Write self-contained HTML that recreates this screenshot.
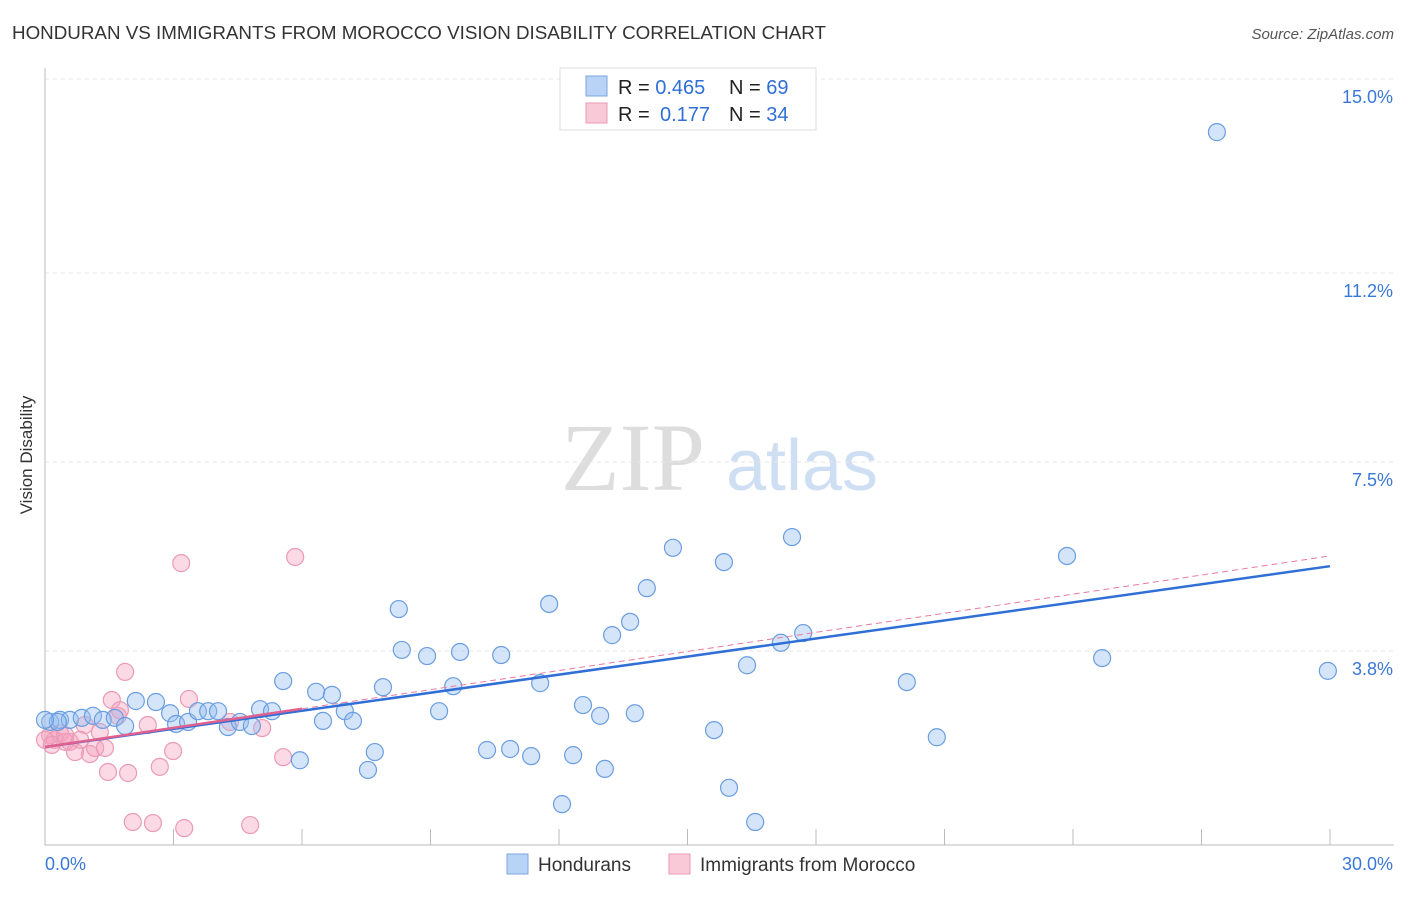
<!DOCTYPE html>
<html><head><meta charset="utf-8"><style>
body{margin:0;background:#fff;font-family:"Liberation Sans",sans-serif}
</style></head><body>
<svg id="c" width="1406" height="892" xmlns="http://www.w3.org/2000/svg">
<text x="12" y="39" font-size="18.8" fill="#333">HONDURAN VS IMMIGRANTS FROM MOROCCO VISION DISABILITY CORRELATION CHART</text>
<text x="1394" y="39" font-size="15" fill="#555" font-style="italic" text-anchor="end">Source: ZipAtlas.com</text>
<text x="32" y="455" font-size="17" fill="#333" text-anchor="middle" transform="rotate(-90 32 455)">Vision Disability</text>
<g>
<text x="633" y="490" font-size="96" font-family="Liberation Serif,serif" fill="#ddd" text-anchor="middle">ZIP</text>
<text x="802" y="490" font-size="72" fill="#cfdff3" text-anchor="middle">atlas</text>
</g>
<g id="grid"></g><g id="axes"></g><g id="pts"></g><g id="lines"></g>
<g>
<rect x="560" y="68" width="256" height="62" fill="#fff" stroke="#ddd"/>
<rect x="586" y="76" width="21" height="20" fill="#b8d3f5" stroke="#7aa6e0"/>
<rect x="586" y="103" width="21" height="20" fill="#f9c9d8" stroke="#eb9ab5"/>
<text x="618" y="94" font-size="20" fill="#222">R = <tspan fill="#2f6fd6">0.465</tspan><tspan x="729">N = </tspan><tspan fill="#2f6fd6">69</tspan></text>
<text x="618" y="121" font-size="20" fill="#222">R = <tspan x="660" fill="#2f6fd6">0.177</tspan><tspan x="729">N = </tspan><tspan fill="#2f6fd6">34</tspan></text>
</g>
<g>
<rect x="507" y="854" width="21" height="20" fill="#b8d3f5" stroke="#7aa6e0"/>
<text x="538" y="871" font-size="19" fill="#333">Hondurans</text>
<rect x="669" y="854" width="21" height="20" fill="#f9c9d8" stroke="#eb9ab5"/>
<text x="700" y="871" font-size="19" fill="#333">Immigrants from Morocco</text>
</g>
</svg>
<script>
const yTicks=[3.8,7.5,11.2,15.0];
const yTickLabels=["3.8%","7.5%","11.2%","15.0%"];
const xTickVals=[0,3,6,9,12,15,18,21,24,27,30];
const bluePx=[[50,722],[60,720],[70,720],[82,718],[93,716],[103,720],[115,718],[125,726],[136,701],[156,702],[170,713],[176,724],[188,722],[198,711],[208,711],[218,711],[228,727],[240,722],[252,726],[260,709],[272,711],[283,681],[300,760],[316,692],[323,721],[332,695],[345,711],[353,721],[368,770],[375,752],[383,687],[399,609],[402,650],[427,656],[439,711],[453,686],[460,652],[487,750],[501,655],[510,749],[531,756],[540,683],[549,604],[562,804],[573,755],[583,705],[600,716],[605,769],[612,635],[630,622],[635,713],[647,588],[673,548],[714,730],[724,562],[729,788],[747,665],[755,822],[781,643],[792,537],[803,633],[907,682],[937,737],[1067,556],[1102,658],[1217,132],[1328,671],[58,722],[45,720]];
const pinkPx=[[50,735],[55,740],[60,733],[65,742],[70,742],[75,752],[85,725],[90,754],[95,748],[100,732],[105,748],[108,772],[112,700],[118,716],[120,710],[125,672],[128,773],[133,822],[148,725],[153,823],[160,767],[173,751],[181,563],[184,828],[189,699],[230,722],[250,825],[262,728],[283,757],[295,557],[45,740],[52,745],[80,740],[65,735]];
// data arrays (x = % , y = %)
const blueX=bluePx.map(p=>+((p[0]-45)*30/1285).toFixed(2));
const blueY=bluePx.map(p=>+((845-p[1])*15/766).toFixed(2));
const pinkX=pinkPx.map(p=>+((p[0]-45)*30/1285).toFixed(2));
const pinkY=pinkPx.map(p=>+((845-p[1])*15/766).toFixed(2));
const blueFit=[1.92,5.46];
const pinkFit=[1.92,5.66];
const X=v=>45+v*1285/30, Y=v=>845-v*766/15;
const NS="http://www.w3.org/2000/svg";
function mk(t,a,p){const e=document.createElementNS(NS,t);for(const k in a)e.setAttribute(k,a[k]);p.appendChild(e);return e;}
const grid=document.getElementById('grid'),axes=document.getElementById('axes');
yTicks.forEach((v,i)=>{
 const l=mk('line',{x1:45,x2:1394,y1:Y(v),y2:Y(v),stroke:'#e6e6e6','stroke-dasharray':'4 4'},grid);
 
 
 const t=mk('text',{x:1393,y:Y(v)+24,'font-size':18,fill:'#3a78d8','text-anchor':'end'},axes);
 t.textContent=yTickLabels[i];
 
 
});
const ax=mk('line',{x1:45,x2:45,y1:68,y2:845,stroke:'#bbb'},axes);


const bx=mk('line',{x1:45,x2:1394,y1:845,y2:845,stroke:'#bbb'},axes);


xTickVals.forEach(v=>{const l=mk('line',{x1:X(v),x2:X(v),y1:829,y2:845,stroke:'#bbb'},axes);
 
 });
const xl=mk('text',{x:45,y:870,'font-size':18,fill:'#3a78d8'},axes);xl.textContent='0.0%';


const xr=mk('text',{x:1393,y:870,'font-size':18,fill:'#3a78d8','text-anchor':'end'},axes);xr.textContent='30.0%';


const pts=document.getElementById('pts');
pinkX.forEach((x,i)=>{const c=mk('circle',{cx:X(x),cy:Y(pinkY[i]),r:8.5,fill:'rgba(245,160,190,0.4)',stroke:'#eb9ab5','stroke-width':1.2},pts);
 
 });
blueX.forEach((x,i)=>{const c=mk('circle',{cx:X(x),cy:Y(blueY[i]),r:8.5,fill:'rgba(150,190,240,0.4)',stroke:'#6a9de0','stroke-width':1.2},pts);
 
 });
const lines=document.getElementById('lines');
const pd=mk('line',{x1:X(0),y1:Y(pinkFit[0]),x2:X(30),y2:Y(pinkFit[1]),stroke:'#e87aa0','stroke-width':1,'stroke-dasharray':'6 4'},lines);


const bl=mk('line',{x1:X(0),y1:Y(blueFit[0]),x2:X(30),y2:Y(blueFit[1]),stroke:'#2f6fd6','stroke-width':2.5},lines);


const px2=6;
const ps=mk('line',{x1:X(0),y1:Y(pinkFit[0]),x2:X(px2),y2:Y(pinkFit[0]+(pinkFit[1]-pinkFit[0])*px2/30),stroke:'#e0608f','stroke-width':2.5},lines);


</script>
</body></html>
